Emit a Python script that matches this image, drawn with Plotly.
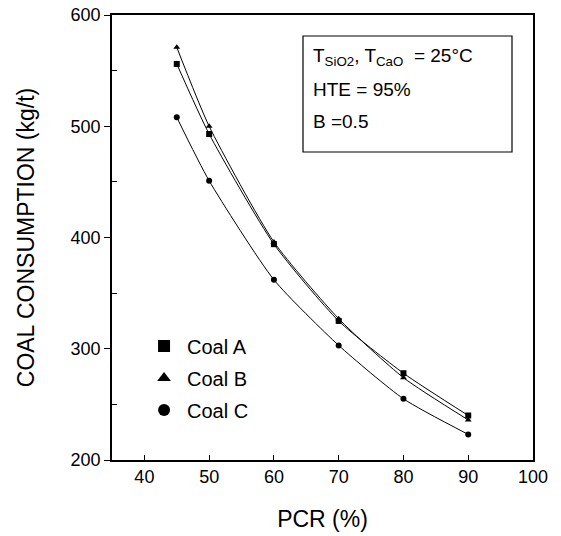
import plotly.graph_objects as go

pcr = [45, 50, 60, 70, 80, 90]
coal_a = [556, 493, 394, 325, 278, 240]
coal_b = [571, 500, 396, 327, 274, 236]
coal_c = [508, 451, 362, 303, 255, 223]

series = [
    ("Coal A", coal_a, "square"),
    ("Coal B", coal_b, "triangle-up"),
    ("Coal C", coal_c, "circle"),
]
info_lines = ["T<sub>SiO2</sub>, T<sub>CaO</sub>  = 25°C", "HTE = 95%", "B =0.5"]

FONT = "Liberation Sans, Arial, sans-serif"
fig = go.Figure()
for name, vals, sym in series:
    fig.add_trace(go.Scatter(
        x=pcr, y=vals, mode="lines+markers", name=name, showlegend=False,
        line=dict(color="black", width=1, shape="spline", smoothing=0.6),
        marker=dict(symbol=sym, size=6, color="black"),
    ))
for name, vals, sym in series:
    fig.add_trace(go.Scatter(
        x=[None], y=[None], mode="markers", name=name, legendgroup=name,
        marker=dict(symbol=sym, size=7, color="black"),
    ))

fig.update_layout(
    width=561, height=536,
    margin=dict(l=112, r=28, t=15, b=76),
    paper_bgcolor="white", plot_bgcolor="white",
    font=dict(family=FONT, color="black", size=18),
    legend=dict(x=0.069, y=0.30, xanchor="left", yanchor="top",
                bgcolor="rgba(0,0,0,0)", font=dict(size=20),
                itemsizing="constant", tracegroupgap=3, itemwidth=36),
    xaxis=dict(
        range=[35, 100], tickvals=[40, 50, 60, 70, 80, 90, 100],
        ticks="inside", ticklen=5, tickcolor="black",
        showline=True, linecolor="black", linewidth=1.5, mirror=True,
        showgrid=False, zeroline=False, automargin=False,
        title=dict(text="PCR (%)", font=dict(size=23), standoff=25),
        tickfont=dict(size=18),
    ),
    yaxis=dict(
        range=[200, 600], tickvals=[200, 300, 400, 500, 600],
        ticks="outside", ticklen=6, tickcolor="black",
        minor=dict(tickvals=[250, 350, 450, 550], ticks="inside", ticklen=5, tickcolor="black"),
        showline=True, linecolor="black", linewidth=1.5, mirror=True,
        showgrid=False, zeroline=False, automargin=False,
        title=dict(text="COAL CONSUMPTION (kg/t)", font=dict(size=23), standoff=30),
        tickfont=dict(size=18),
    ),
)

# info box (paper coords)
fig.add_shape(type="rect", xref="paper", yref="paper",
              x0=(303 - 112) / 421, x1=(512 - 112) / 421,
              y0=1 - (152 - 15) / 445, y1=1 - (36 - 15) / 445,
              line=dict(color="black", width=1.2), fillcolor="white")
for i, t in enumerate(info_lines):
    fig.add_annotation(
        xref="paper", yref="paper", x=(311 - 112) / 421,
        y=1 - (57 + 32 * i - 15) / 445, xanchor="left", yanchor="middle",
        text=t, showarrow=False, align="left", font=dict(size=19),
    )

fig.write_html("out.html")
